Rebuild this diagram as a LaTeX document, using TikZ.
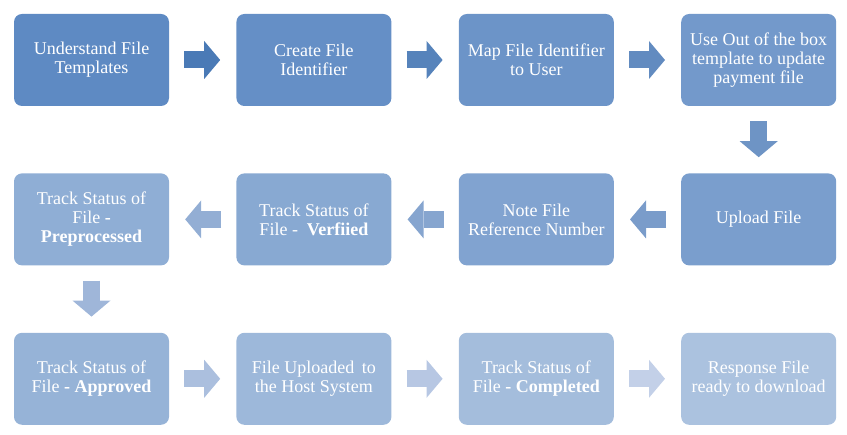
\documentclass[tikz,border=0pt]{standalone}
\usepackage{fontspec}
\setmainfont{Liberation Serif}
\usepackage{tikz}
\usetikzlibrary{positioning, arrows.meta}
\definecolor{boxdark}{HTML}{5E8AC3}
\definecolor{boxlight}{HTML}{ABC2DF}
\definecolor{arrowdark}{HTML}{4A7AB6}
\definecolor{arrowlight}{HTML}{C3D0E8}

\tikzset{
  stepbox/.style={rounded corners=8pt, minimum width=155pt, minimum height=92pt,
    inner sep=2pt, align=center, text=white, font=\fontsize{18}{19}\selectfont},
  flow/.style={line width=17pt, shorten <=15pt, shorten >=16pt,
    -{Triangle[length=16pt, width=38pt, line width=0pt]}}
}

\begin{document}
\begin{tikzpicture}[x=1pt, y=-1pt, node distance=67pt]
  \useasboundingbox (0,0) rectangle (847,435);
  % first row
  \node[stepbox, fill=boxlight!0!boxdark] (b1) at (91.5,60) {Understand File\\Templates};
  \node[stepbox, fill=boxlight!9!boxdark, right=of b1] (b2) {Create File\\Identifier};
  \node[stepbox, fill=boxlight!18!boxdark, right=of b2] (b3) {Map File Identifier\\to User};
  \node[stepbox, fill=boxlight!27!boxdark, right=of b3] (b4) {Use Out of the box\\template to update\\payment file};
  % second row
  \node[stepbox, fill=boxlight!36!boxdark, below=of b4] (b5) {Upload File};
  \node[stepbox, fill=boxlight!45!boxdark, left=of b5] (b6) {Note File\\Reference Number};
  \node[stepbox, fill=boxlight!55!boxdark, left=of b6] (b7) {Track Status of\\File - \ \textbf{Verfiied}};
  \node[stepbox, fill=boxlight!64!boxdark, left=of b7] (b8) {Track Status of\\File \textbf{-}\\\textbf{Preprocessed}};
  % third row
  \node[stepbox, fill=boxlight!73!boxdark, below=of b8] (b9) {Track Status of\\File \textbf{- Approved}};
  \node[stepbox, fill=boxlight!82!boxdark, right=of b9] (b10) {File Uploaded\, to\\the Host System};
  \node[stepbox, fill=boxlight!91!boxdark, right=of b10] (b11) {Track Status of\\File \textbf{- Completed}};
  \node[stepbox, fill=boxlight!100!boxdark, right=of b11] (b12) {Response File\\ready to download};

  \draw[flow, arrowdark] (b1) -- (b2);
  \draw[flow, arrowlight!10!arrowdark] (b2) -- (b3);
  \draw[flow, arrowlight!20!arrowdark] (b3) -- (b4);
  \draw[flow, arrowlight!30!arrowdark] (b4) -- (b5);
  \draw[flow, arrowlight!40!arrowdark] (b5) -- (b6);
  \draw[flow, arrowlight!50!arrowdark] (b6) -- (b7);
  \draw[flow, arrowlight!60!arrowdark] (b7) -- (b8);
  \draw[flow, arrowlight!70!arrowdark] (b8) -- (b9);
  \draw[flow, arrowlight!80!arrowdark] (b9) -- (b10);
  \draw[flow, arrowlight!90!arrowdark] (b10) -- (b11);
  \draw[flow, arrowlight] (b11) -- (b12);
\end{tikzpicture}
\end{document}
